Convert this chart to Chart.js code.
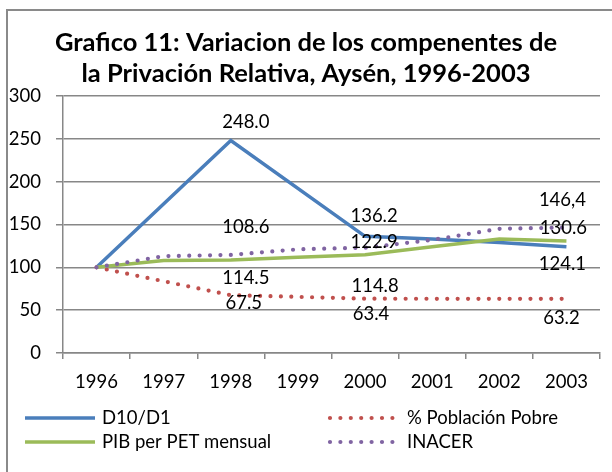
<!DOCTYPE html>
<html>
<head>
<meta charset="utf-8">
<script src="https://cdn.jsdelivr.net/npm/chart.js@4.4.1/dist/chart.umd.min.js"></script>
<style>
  body { margin: 0; background: #fff; }
  #wrap { width: 612px; height: 472px; }
</style>
</head>
<body>
<div id="wrap"><canvas id="grafico"></canvas></div>
<script>
// data
const years = ["1996", "1997", "1998", "1999", "2000", "2001", "2002", "2003"];
const d10d1 = [100, null, 248.0, null, 136.2, 133, 129, 124.1];
const pobreza = [100, null, 67.5, 65.5, 63.4, 63.3, 63.2, 63.2];
const pibPet = [100, 108, 108.6, 111.7, 114.8, 124, 133, 130.6];
const inacer = [100, 113, 114.5, 121, 122.9, 132, 145, 146.4];
const yTicks = [0, 50, 100, 150, 200, 250, 300];

// value labels shown in the chart (index -> text)
const d10d1Labels = { 2: "248.0", 4: "136.2", 7: "124.1" };
const pobrezaLabels = { 2: "67.5", 4: "63.4", 7: "63.2" };
const pibLabels = { 2: "108.6", 4: "114.8", 7: "130.6" };
const inacerLabels = { 2: "114.5", 4: "122.9", 7: "146,4" };

const titleLines = ["Grafico 11: Variacion de los compenentes de", "la Privación Relativa, Aysén, 1996-2003"];

const FONT = "Lato, 'Open Sans', sans-serif";
const gridColor = "#878787";

// where Excel put each label, relative to its point (px)
const labelOffsets = [
  { 2: [15, -19], 4: [9, -20], 7: [-4, 17] },   // D10/D1
  { 2: [13, 8], 4: [6, 15], 7: [-5, 19] },      // % Poblacion Pobre
  { 2: [15, -33], 4: [10, 31], 7: [-3, -13] },  // PIB
  { 2: [15, 23], 4: [9, -6], 7: [-4, -28] }     // INACER
];

const decor = {
  id: "decor",
  beforeDraw(chart) {
    const ctx = chart.ctx;
    ctx.save();
    ctx.fillStyle = "#fff";
    ctx.fillRect(0, 0, chart.width, chart.height);
    ctx.strokeStyle = "#8a8a8a";
    ctx.lineWidth = 2;
    ctx.strokeRect(7, 10, 640, 500);
    // title
    ctx.fillStyle = "#000";
    ctx.font = "bold 25.5px " + FONT;
    ctx.textAlign = "center";
    ctx.textBaseline = "middle";
    ctx.fillText(titleLines[0], 306, 43);
    ctx.fillText(titleLines[1], 306, 74);
    ctx.restore();
  },
  afterDatasetsDraw(chart) {
    const ctx = chart.ctx;
    ctx.save();
    ctx.font = "18.5px " + FONT;
    ctx.fillStyle = "#000";
    ctx.textAlign = "center";
    ctx.textBaseline = "middle";
    chart.data.datasets.forEach((ds, di) => {
      const meta = chart.getDatasetMeta(di);
      Object.keys(ds.valueLabels).forEach(k => {
        const pt = meta.data[k];
        const off = labelOffsets[di][k];
        ctx.fillText(ds.valueLabels[k], pt.x + off[0], pt.y + off[1]);
      });
    });

    // legend, two columns
    const items = [
      [0, 25, 418], [1, 330, 418],
      [2, 25, 442], [3, 330, 442]
    ];
    ctx.textAlign = "left";
    items.forEach(([di, x, y]) => {
      const ds = chart.data.datasets[di];
      ctx.beginPath();
      ctx.strokeStyle = ds.borderColor;
      ctx.lineWidth = ds.borderWidth;
      ctx.lineCap = ds.borderCapStyle || "butt";
      ctx.setLineDash(ds.borderDash || []);
      ctx.moveTo(x, y);
      ctx.lineTo(x + 70, y);
      ctx.stroke();
      ctx.setLineDash([]);
      ctx.fillStyle = "#000";
      ctx.fillText(ds.label, x + 77, y);
    });
    ctx.restore();
  }
};

new Chart(document.getElementById("grafico"), {
  type: "line",
  data: {
    labels: years,
    datasets: [
      {
        label: "D10/D1",
        data: d10d1,
        valueLabels: d10d1Labels,
        borderColor: "#4a7ebb",
        borderWidth: 3.5,
        order: 4
      },
      {
        label: "% Población Pobre",
        data: pobreza,
        valueLabels: pobrezaLabels,
        borderColor: "#c0504d",
        borderWidth: 4.2,
        borderDash: [0, 10.4],
        borderCapStyle: "round",
        order: 3
      },
      {
        label: "PIB per PET mensual",
        data: pibPet,
        valueLabels: pibLabels,
        borderColor: "#9bbb59",
        borderWidth: 3.5,
        order: 2
      },
      {
        label: "INACER",
        data: inacer,
        valueLabels: inacerLabels,
        borderColor: "#8064a2",
        borderWidth: 4.2,
        borderDash: [0, 10.4],
        borderCapStyle: "round",
        order: 1
      }
    ]
  },
  options: {
    responsive: true,
    maintainAspectRatio: false,
    animation: false,
    spanGaps: true,
    elements: {
      point: { radius: 0, hoverRadius: 0 },
      line: { tension: 0, fill: false }
    },
    layout: { padding: { left: 7, right: 12, top: 96, bottom: 69 } },
    plugins: {
      legend: { display: false },
      title: { display: false },
      tooltip: { enabled: false }
    },
    scales: {
      x: {
        offset: true,
        grid: { drawOnChartArea: false, offset: true, tickLength: 6, color: gridColor, lineWidth: 1.5 },
        border: { color: gridColor, width: 1.5 },
        ticks: { color: "#000", font: { family: FONT, size: 18.5 }, padding: 12, maxRotation: 0, autoSkip: false },
        afterFit: s => { s.height = 50; }
      },
      y: {
        min: 0,
        max: 300,
        afterBuildTicks: s => { s.ticks = yTicks.map(v => ({ value: v })); },
        grid: { color: gridColor, lineWidth: 1.5, tickLength: 7 },
        border: { color: gridColor, width: 1.5 },
        ticks: { color: "#000", font: { family: FONT, size: 18.5 }, padding: 15 },
        afterFit: s => { s.width = 56; }
      }
    }
  },
  plugins: [decor]
});
</script>
</body>
</html>
